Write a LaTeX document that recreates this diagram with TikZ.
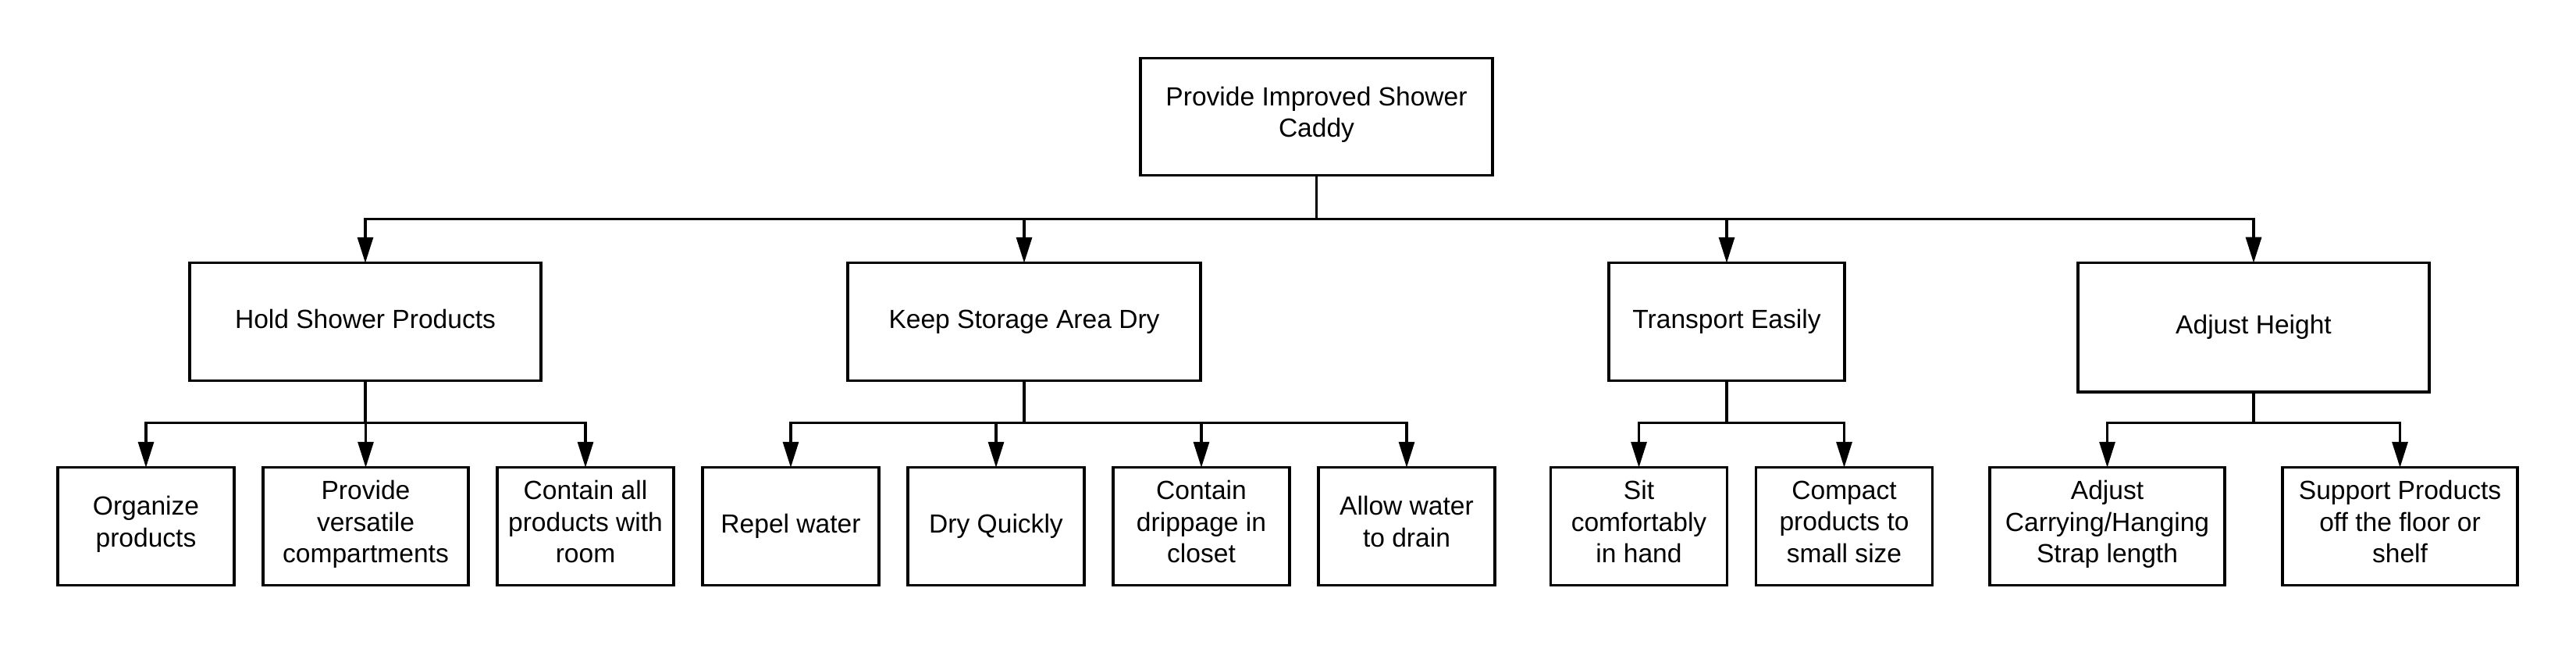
\documentclass[tikz,border=0pt]{standalone}
\usepackage{fontspec}
\setmainfont{Liberation Sans}
\usetikzlibrary{positioning}
\usetikzlibrary{arrows.meta}

\begin{document}
\begin{tikzpicture}[
			box/.style = {
				draw, rectangle, line width=0.9pt, align=center,
				inner sep=2pt, outer sep=0pt, minimum height=1.505cm,
				font=\fontsize{9.55}{11.5}\selectfont,
				execute at begin node=\strut, execute at end node=\strut
			},
			small/.style = {box, minimum width=2.26cm},
			arr/.style = {
				line width=0.9pt, -{Triangle[length=0.33cm,width=0.2cm]}
			}]
			\useasboundingbox (0,0) rectangle (33,-8.25);
			\node (root) [box, minimum width=4.51cm] at (16.865,-1.495) {Provide Improved Shower\\Caddy};
			\node (hold) [box, minimum width=4.50cm] at (4.68,-4.12) {Hold Shower Products};
			\node (keep) [box, minimum width=4.52cm] at (13.12,-4.12) {Keep Storage Area Dry};
			\node (trans) [box, minimum width=3.02cm] at (22.12,-4.12) {Transport Easily};
			\node (adj) [box, minimum width=4.50cm, minimum height=1.653cm] at (28.87,-4.193) {Adjust Height};
			\node (org) [small] at (1.87,-6.74) {Organize\\products};
			\node (vers) [box, minimum width=2.63cm, right=0.37cm of org] {Provide\\versatile\\compartments};
			\node (room) [small, right=0.37cm of vers] {Contain all\\products with\\room};
			\node (repel) [small, right=0.37cm of room] {Repel water};
			\node (dry) [small, right=0.37cm of repel] {Dry Quickly};
			\node (drip) [small, right=0.37cm of dry] {Contain\\drippage in\\closet};
			\node (drain) [small, right=0.37cm of drip] {Allow water\\to drain};
			\node (sit) [small] at (20.995,-6.74) {Sit\\comfortably\\in hand};
			\node (compact) [small, right=0.37cm of sit] {Compact\\products to\\small size};
			\node (strap) [box, minimum width=3.01cm] at (26.995,-6.74) {Adjust\\Carrying/Hanging\\Strap length};
			\node (floor) [box, minimum width=3.01cm, right=0.74cm of strap] {Support Products\\off the floor or\\shelf};
			\coordinate (top) at (0,-2.804);
			\coordinate (low) at (0,-5.419);
			% top level
			\draw [arr] (root.south) -- (root.south |- top) -| (hold.north);
			\draw [arr] (root.south) -- (root.south |- top) -| (keep.north);
			\draw [arr] (root.south) -- (root.south |- top) -| (trans.north);
			\draw [arr] (root.south) -- (root.south |- top) -| (adj.north);
			% second level
			\draw [arr] (hold.south) -- (hold.south |- low) -| (org.north);
			\draw [arr] (hold.south) -- (hold.south |- low) -| (vers.north);
			\draw [arr] (hold.south) -- (hold.south |- low) -| (room.north);
			\draw [arr] (keep.south) -- (keep.south |- low) -| (repel.north);
			\draw [arr] (keep.south) -- (keep.south |- low) -| (dry.north);
			\draw [arr] (keep.south) -- (keep.south |- low) -| (drip.north);
			\draw [arr] (keep.south) -- (keep.south |- low) -| (drain.north);
			\draw [arr] (trans.south) -- (trans.south |- low) -| (sit.north);
			\draw [arr] (trans.south) -- (trans.south |- low) -| (compact.north);
			\draw [arr] (adj.south) -- (adj.south |- low) -| (strap.north);
			\draw [arr] (adj.south) -- (adj.south |- low) -| (floor.north);
		\end{tikzpicture}
\end{document}
